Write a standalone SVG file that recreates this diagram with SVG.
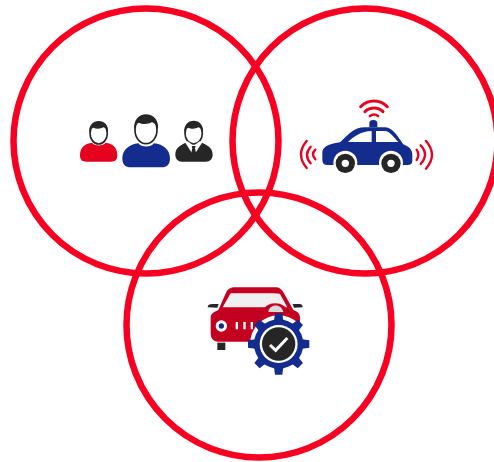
<svg xmlns="http://www.w3.org/2000/svg" width="494" height="462" viewBox="0 0 494 462">
<style>
.ring{fill:none;stroke:#f70022;stroke-width:6.5}
.wave{fill:none;stroke:#e8001f;stroke-linecap:round}
.red{fill:#e60020}.blue{fill:#142c8e}.dark{fill:#262626}.white{fill:#fff}
.faceline{fill:#fff;stroke:#262626;stroke-width:5}
</style>
<rect width="494" height="462" fill="#fff"/>
<g id="circle-people"><circle class="ring" cx="146" cy="141" r="132.500"/></g>
<g id="circle-car"><circle class="ring" cx="365" cy="141" r="132.500"/></g>
<g id="circle-service"><circle class="ring" cx="259" cy="325" r="132.500"/></g>
<g id="people" transform="translate(70,105) scale(.3333)">
<path class="red" d="M30 150C30 125 48 115 66 113C75 124 98 124 107 113C125 115 142 125 142 150C142 165 135 170 122 170H50C37 170 30 165 30 150Z"/>
<ellipse class="faceline" cx="86" cy="85" rx="26" ry="32"/>
<path class="dark" d="M58 84C55 60 70 48 86 48C103 48 117 60 114 84C111 72 106 68 100 67C92 72 78 72 70 68C64 70 60 75 58 84Z"/>
<path class="blue" d="M157 160C157 135 178 118 205 115C215 128 242 128 252 115C280 118 300 135 300 160C300 180 290 187 275 187H182C167 187 157 180 157 160Z"/>
<ellipse class="faceline" cx="228" cy="75" rx="33" ry="41"/>
<path class="dark" d="M193 75C189 45 208 28 228 28C249 28 268 45 264 75C260 60 253 53 245 52C235 58 215 58 207 53C200 55 196 62 193 75Z"/>
<path class="dark" d="M316 148C316 128 335 118 352 112L371 125L391 112C408 118 428 128 428 148C428 163 420 170 408 170H336C324 170 316 163 316 148Z"/>
<ellipse class="faceline" cx="371" cy="85" rx="26" ry="32"/>
<path class="dark" d="M343 84C340 60 355 47 371 47C388 47 402 60 399 84C396 72 391 68 385 67C377 72 363 72 355 68C349 70 345 75 343 84Z"/>
<path class="white" d="M345 112L353 109L371 122L389 109L397 112L376 145L371 150L366 145Z"/>
<path class="dark" d="M365 123H377L375 130L379 147L371 153L363 147L367 130Z"/>
</g>
<g id="connected-car" transform="translate(290,90) scale(.3333)">
<path class="wave" stroke-width="9" d="M212 50C234 27 270 27 292 50M225 65C240 50 264 50 279 65"/>
<path class="wave" stroke-width="8" d="M240 78C247 72 257 72 264 78"/>
<path class="blue" d="M238 112V100Q238 90 250 90Q262 90 262 100V112Z"/>
<path class="blue" d="M97 190C97 172 110 163 150 157C175 135 190 112 225 112H285C310 112 330 150 340 163C358 170 367 180 367 195V212Q367 225 352 225H112Q97 225 97 210Z"/>
<path class="white" d="M174 156C190 140 215 123 245 123V156ZM258 123H285C298 123 312 142 325 156H258Z"/>
<circle class="white" cx="166" cy="218" r="36"/><circle class="white" cx="303" cy="218" r="36"/>
<circle class="dark" cx="166" cy="220" r="29"/><circle class="white" cx="166" cy="220" r="11"/>
<circle class="dark" cx="303" cy="220" r="29"/><circle class="white" cx="303" cy="220" r="11"/>
<path class="wave" stroke-width="7" d="M50 153Q16 193 50 234M62 170Q40 195 62 220M76 179Q62 193 76 208"/>
<path class="wave" stroke-width="7" d="M408 153Q444 194 408 236M392 166Q418 194 392 222M380 179Q390 194 380 210"/>
</g>
<g id="car-service" transform="translate(200,280) scale(.3333)">
<path class="dark" d="M23 82Q23 72 38 72H56L52 83ZM278 72H298Q308 72 308 82L282 83Z"/>
<path d="M32 112C32 100 45 95 55 90L78 38C84 26 92 22 105 22H225C238 22 245 28 252 40L280 90C292 95 300 100 300 112V160C300 178 290 185 270 185H55C40 185 32 175 32 160Z" fill="#c40020"/>
<path fill="#f0f0f0" d="M68 82L92 40H195C215 40 236 40 240 42L262 82Z"/>
<path d="M188 100C190 60 260 60 265 100" fill="#c40020"/>
<path d="M205 96C208 70 245 70 250 96Z" fill="#d9d9d9"/>
<rect class="dark" x="52" y="188" width="24" height="22"/>
<circle class="white" cx="64" cy="138" r="17"/><circle class="blue" cx="64" cy="138" r="8"/>
<path class="white" d="M107 126h7v22h-7zM130 126h7v22h-7zM152 126h7v22h-7z"/>
<circle cx="236" cy="192" r="86" fill="#fff"/>
<g transform="translate(236,192)">
<g class="blue"><circle r="74"/>
<path d="M-14 -70L-11 -92H11L14 -70Z"/>
<path d="M-14 -70L-11 -92H11L14 -70Z" transform="rotate(45)"/><path d="M-14 -70L-11 -92H11L14 -70Z" transform="rotate(90)"/><path d="M-14 -70L-11 -92H11L14 -70Z" transform="rotate(135)"/><path d="M-14 -70L-11 -92H11L14 -70Z" transform="rotate(180)"/><path d="M-14 -70L-11 -92H11L14 -70Z" transform="rotate(225)"/><path d="M-14 -70L-11 -92H11L14 -70Z" transform="rotate(270)"/><path d="M-14 -70L-11 -92H11L14 -70Z" transform="rotate(315)"/></g>
<circle r="57" class="white"/><circle r="50" class="dark"/>
<path d="M-26 3L-9 19L26 -18" fill="none" stroke="#fff" stroke-width="9"/>
</g>
</g>
</svg>
